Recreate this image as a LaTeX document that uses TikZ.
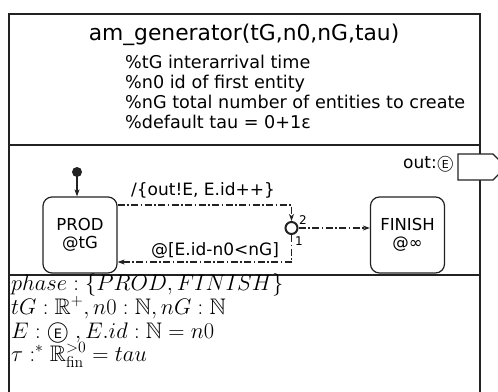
\RequirePackage{fix-cm}
\documentclass[tikz,border=0pt]{standalone}
\usepackage[no-math]{fontspec}
\usepackage{amsmath,amssymb}
\setmainfont{DejaVu Sans}
\usetikzlibrary{arrows.meta}
\DeclareFontFamily{U}{msb}{}
\DeclareFontShape{U}{msb}{m}{n}{<-> msbm10}{}
\definecolor{ink}{HTML}{222222}
\newcommand{\circE}[2]{{\ooalign{\hidewidth\fontsize{#2}{#2}\selectfont E\hidewidth\cr\fontsize{#1}{#1}\selectfont$\bigcirc$\cr}}}
\tikzset{
  frame/.style={draw=ink, line width=1.4pt},
  statebox/.style={draw=ink, line width=1.2pt, rounded corners=9pt, minimum width=74pt, minimum height=76pt, align=center, font=\fontsize{16.5}{20}\selectfont, inner sep=0pt},
  trans/.style={draw=ink, line width=1.2pt, dash pattern=on 7pt off 2.5pt on 1.5pt off 2.5pt, -{Stealth[length=7pt,width=5pt,inset=2pt]}},
  transplain/.style={draw=ink, line width=1.2pt, dash pattern=on 7pt off 2.5pt on 1.5pt off 2.5pt},
  lbl/.style={font=\fontsize{17}{20}\selectfont, inner sep=0pt},
  cmt/.style={font=\fontsize{17.6}{20}\selectfont, inner sep=0pt, anchor=base west},
  mathline/.style={font=\fontsize{22.5}{25}\selectfont, inner sep=0pt, anchor=base west},
  small/.style={font=\fontsize{12}{14}\selectfont, inner sep=0pt}
}
\begin{document}
\begin{tikzpicture}[x=1pt,y=-1pt]
\useasboundingbox (0,0) rectangle (498,391);
% outer frame
\draw[frame] (9,14) -- (480,14) -- (480,395) -- (9,395) -- cycle;
\draw[frame] (9,145) -- (480,145);
\draw[frame] (9,275) -- (480,275);
% header
\node[font=\fontsize{21.8}{26}\selectfont, inner sep=0pt, anchor=base] (title) at (244,40) {am\_generator(tG,n0,nG,tau)};
\node[cmt] (c1) at (125,68) {\%tG interarrival time};
\node[cmt] (c2) at (125,88) {\%n0 id of first entity};
\node[cmt] (c3) at (125,108) {\%nG total number of entities to create};
\node[cmt] (c4) at (125,128) {\%default tau = 0+1ε};
% port
\draw[draw=ink, line width=1.2pt, fill=white] (458,154) -- (493,154) -- (506,167) -- (493,180) -- (458,180) -- cycle;
\node[lbl, anchor=base east] (outlbl) at (454,168) {out:\circE{17}{11}};
% states
\fill[ink] (77,172) circle (5pt);
\coordinate (init) at (77,172);
\node[statebox] (prod) at (80,235) {PROD\\[-2pt]@tG};
\node[statebox] (fin) at (407.5,235) {FINISH\\[-2pt]@∞};
\node[draw=ink, line width=2pt, fill=white, circle, minimum size=12pt, inner sep=0pt] (junc) at (291.5,228) {};
\draw[draw=ink, line width=1.2pt, -{Stealth[length=7pt,width=5pt,inset=2pt]}] (init) -- (prod.north -| init);
\draw[trans] (prod.east |- 0,205) -- (291.5,205) -- (junc.north);
\draw[transplain] (junc.south) -- (291.5,262);
\draw[trans] (291.5,262) -- (prod.east |- 0,262);
\draw[trans] (junc.east) -- (fin.west |- junc);
\node[lbl, anchor=base] (t1) at (203,195) {/\{out!E, E.id++\}};
\node[lbl, anchor=base] (t2) at (215,255) {@[E.id-n0<nG]};
\node[small, anchor=base west] (n2) at (299,224) {2};
\node[small, anchor=base west] (n1) at (295,245) {1};
% declarations
\node[mathline] (d1) at (11,290) {$phase:\{PROD,FINISH\}$};
\node[mathline] (d2) at (11,314) {$tG:\mathbb{R}^{+},n0:\mathbb{N},nG:\mathbb{N}$};
\node[mathline] (d3) at (11,338) {$E:\mbox{\circE{22}{13}}\;,E.id:\mathbb{N}=n0$};
\node[mathline] (d4) at (11,361) {$\tau:^{*}\mathbb{R}^{>0}_{\mathrm{fin}}=tau$};
\end{tikzpicture}
\end{document}
